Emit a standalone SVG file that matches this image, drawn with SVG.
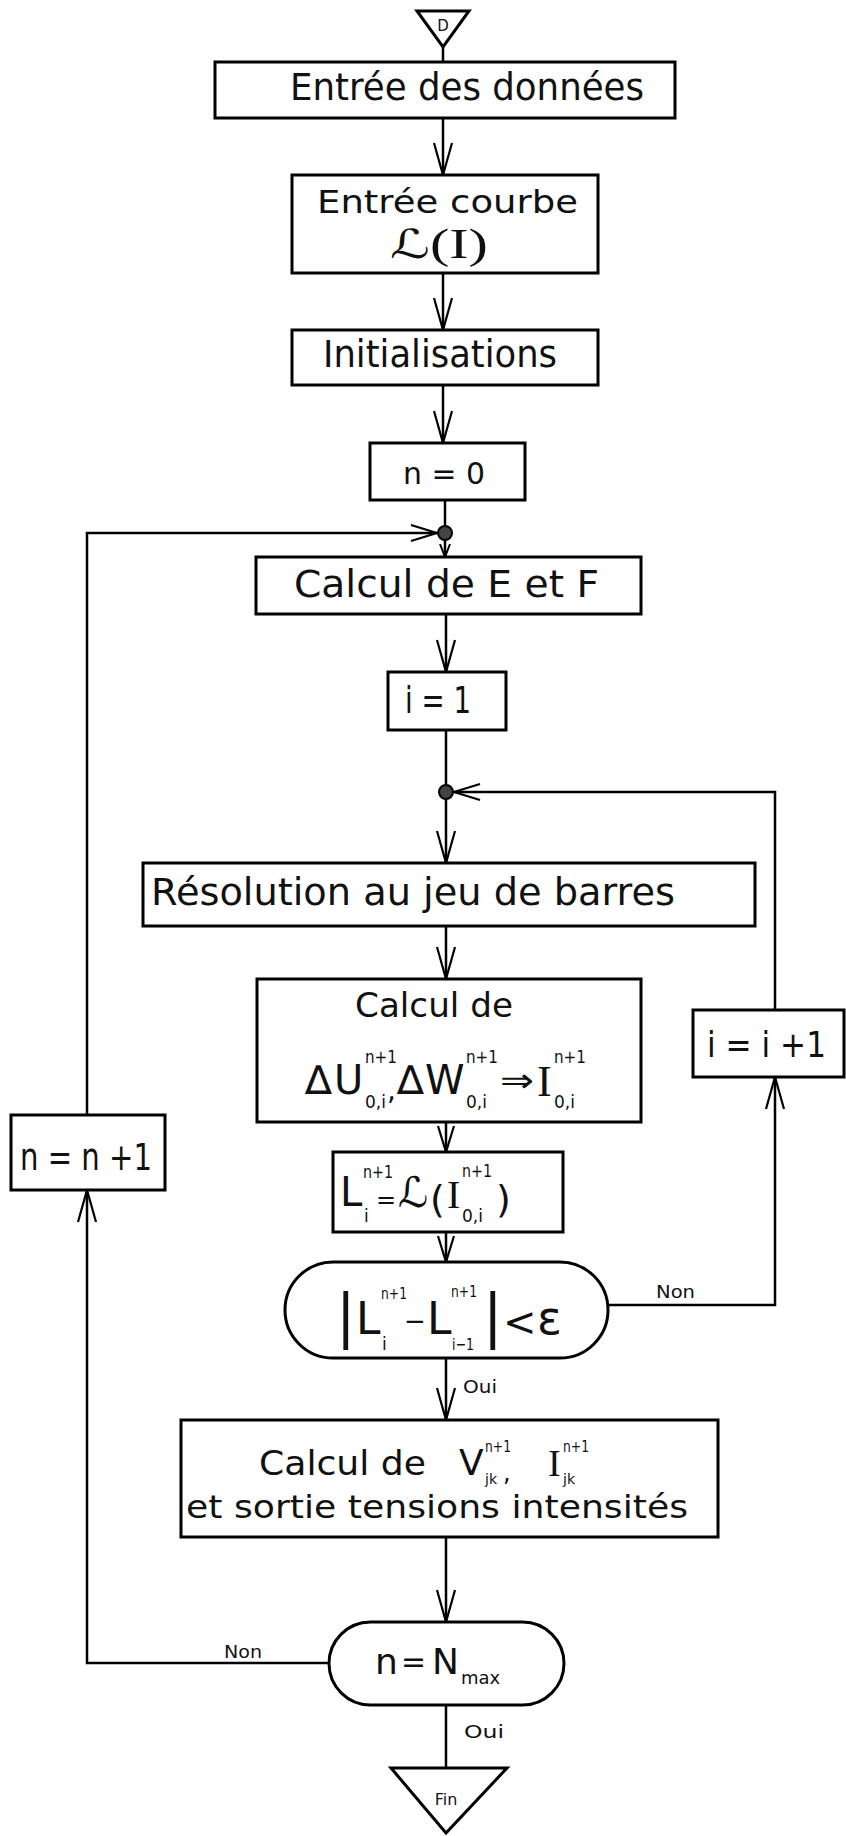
<svg xmlns="http://www.w3.org/2000/svg" width="846" height="1836" viewBox="0 0 846 1836">
<style>
.box{fill:#fff;stroke:#000;stroke-width:3}
.t{font-family:"DejaVu Sans","Liberation Sans",sans-serif;fill:#111}
.sf{font-family:"Liberation Serif","DejaVu Serif",serif;fill:#111}
.c{fill:none;stroke:#000;stroke-width:2.5}
.j{fill:#444;stroke:#000;stroke-width:2}
.lab{font-family:"DejaVu Sans","Liberation Sans",sans-serif;fill:#111;font-size:17px}
</style>
<defs>
<marker id="v" viewBox="-34 -12 36 24" refX="0" refY="0" markerWidth="36" markerHeight="24" markerUnits="userSpaceOnUse" orient="auto"><path d="M-32,-9 L0,0 L-32,9" fill="none" stroke="#000" stroke-width="2.2"/></marker>
<marker id="vm" viewBox="-28 -10 30 20" refX="0" refY="0" markerWidth="30" markerHeight="20" markerUnits="userSpaceOnUse" orient="auto"><path d="M-26,-8 L0,0 L-26,8" fill="none" stroke="#000" stroke-width="2.2"/></marker>
<marker id="vs" viewBox="-15 -7 17 14" refX="0" refY="0" markerWidth="17" markerHeight="14" markerUnits="userSpaceOnUse" orient="auto"><path d="M-13,-5 L0,0 L-13,5" fill="none" stroke="#000" stroke-width="2"/></marker>
</defs>
<rect width="846" height="1836" fill="#fff"/>

<g id="connectors">
<path class="c" d="M443,47 L443,62"/>
<path class="c" d="M443,118 L443,175" marker-end="url(#v)"/>
<path class="c" d="M443,273 L443,330" marker-end="url(#v)"/>
<path class="c" d="M443,385 L443,443" marker-end="url(#v)"/>
<path class="c" d="M445,500 L445,526"/>
<path class="c" d="M445,540 L445,557" marker-end="url(#vs)"/>
<path class="c" d="M446,614 L446,672" marker-end="url(#v)"/>
<path class="c" d="M446,730 L446,785"/>
<path class="c" d="M446,799 L446,863" marker-end="url(#v)"/>
<path class="c" d="M446,926 L446,979" marker-end="url(#v)"/>
<path class="c" d="M446,1122 L446,1152" marker-end="url(#vm)"/>
<path class="c" d="M446,1232 L446,1262" marker-end="url(#vm)"/>
<path class="c" d="M446,1358 L446,1420" marker-end="url(#v)"/>
<path class="c" d="M446,1537 L446,1622" marker-end="url(#v)"/>
<path class="c" d="M446,1705 L446,1768"/>
<path class="c" d="M608,1305 L775,1305 L775,1077" marker-end="url(#v)"/>
<path class="c" d="M775,1010 L775,792 L454,792" marker-end="url(#vm)"/>
<path class="c" d="M329,1663 L87,1663 L87,1190" marker-end="url(#v)"/>
<path class="c" d="M87,1115 L87,533 L437,533" marker-end="url(#vm)"/>
<circle class="j" cx="445" cy="533" r="7"/>
<circle class="j" cx="446" cy="792" r="7"/>
<text class="lab" x="656" y="1298" textLength="39" lengthAdjust="spacingAndGlyphs">Non</text>
<text class="lab" x="463" y="1393" textLength="34" lengthAdjust="spacingAndGlyphs">Oui</text>
<text class="lab" x="224" y="1658" textLength="38" lengthAdjust="spacingAndGlyphs" font-size="15">Non</text>
<text class="lab" x="464" y="1738" textLength="40" lengthAdjust="spacingAndGlyphs">Oui</text>
</g>

<g id="start">
<polygon class="box" points="417,11 469,11 443,47"/>
<text class="t" x="443" y="31" font-size="15" text-anchor="middle">D</text>
</g>

<g id="entree-donnees">
<rect class="box" x="215" y="62" width="460" height="56"/>
<text class="t" x="290" y="100" font-size="37" textLength="354" lengthAdjust="spacingAndGlyphs">Entrée des données</text>
</g>

<g id="entree-courbe">
<rect class="box" x="292" y="175" width="306" height="98"/>
<text class="t" x="317" y="213" font-size="32" textLength="261" lengthAdjust="spacingAndGlyphs">Entrée courbe</text>
<text class="t" x="390" y="258" font-size="40" textLength="98" lengthAdjust="spacingAndGlyphs">ℒ<tspan class="sf" font-size="42">(I)</tspan></text>
</g>

<g id="initialisations">
<rect class="box" x="292" y="330" width="306" height="55"/>
<text class="t" x="323" y="367" font-size="37" textLength="234" lengthAdjust="spacingAndGlyphs">Initialisations</text>
</g>

<g id="n0">
<rect class="box" x="370" y="443" width="155" height="57"/>
<text class="t" x="403" y="484" font-size="30" textLength="82" lengthAdjust="spacingAndGlyphs">n = 0</text>
</g>

<g id="calcul-ef">
<rect class="box" x="256" y="557" width="385" height="57"/>
<text class="t" x="294" y="597" font-size="37" textLength="305" lengthAdjust="spacingAndGlyphs">Calcul de E et F</text>
</g>

<g id="i1">
<rect class="box" x="388" y="672" width="118" height="58"/>
<text class="t" x="405" y="713" font-size="38" textLength="66" lengthAdjust="spacingAndGlyphs">i = 1</text>
</g>

<g id="resolution">
<rect class="box" x="143" y="863" width="612" height="63"/>
<text class="t" x="151" y="905" font-size="37" textLength="524" lengthAdjust="spacingAndGlyphs">Résolution au jeu de barres</text>
</g>

<g id="calcul-du">
<rect class="box" x="257" y="979" width="384" height="143"/>
<text class="t" x="355" y="1017" font-size="34" textLength="158" lengthAdjust="spacingAndGlyphs">Calcul de</text>
<text class="t" font-size="40"><tspan x="305" y="1094">∆</tspan><tspan x="334" y="1094">U</tspan><tspan x="365" y="1063" font-size="18" textLength="32" lengthAdjust="spacingAndGlyphs">n+1</tspan><tspan x="365" y="1108" font-size="17">0,i</tspan><tspan x="387" y="1100" font-size="28">,</tspan><tspan x="397" y="1094">∆</tspan><tspan x="425" y="1094">W</tspan><tspan x="466" y="1063" font-size="18" textLength="32" lengthAdjust="spacingAndGlyphs">n+1</tspan><tspan x="466" y="1108" font-size="17">0,i</tspan><tspan x="500" y="1092" font-size="34" textLength="34" lengthAdjust="spacingAndGlyphs">⇒</tspan><tspan class="sf" x="537" y="1096" font-size="44">I</tspan><tspan x="554" y="1063" font-size="18" textLength="32" lengthAdjust="spacingAndGlyphs">n+1</tspan><tspan x="554" y="1108" font-size="17">0,i</tspan></text>
</g>

<g id="calcul-l">
<rect class="box" x="333" y="1152" width="230" height="80"/>
<text class="t" font-size="40"><tspan x="340" y="1206">L</tspan><tspan x="363" y="1178" font-size="18" textLength="30" lengthAdjust="spacingAndGlyphs">n+1</tspan><tspan x="364" y="1222" font-size="17">i</tspan><tspan x="376" y="1208" font-size="24">=</tspan><tspan x="398" y="1207" font-size="42">ℒ</tspan><tspan x="430" y="1212" font-size="38">(</tspan><tspan class="sf" x="447" y="1208" font-size="40">I</tspan><tspan x="462" y="1177" font-size="18" textLength="30" lengthAdjust="spacingAndGlyphs">n+1</tspan><tspan x="462" y="1222" font-size="17">0,i</tspan><tspan x="496" y="1212" font-size="38">)</tspan></text>
</g>

<g id="test-l">
<rect class="box" x="285" y="1262" width="323" height="96" rx="48" ry="48"/>
<text class="t" font-size="44"><tspan x="336" y="1336" font-size="58">|</tspan><tspan x="356" y="1334">L</tspan><tspan x="381" y="1299" font-size="15" textLength="26" lengthAdjust="spacingAndGlyphs">n+1</tspan><tspan x="382" y="1350" font-size="17">i</tspan><tspan x="404" y="1330" font-size="26">−</tspan><tspan x="427" y="1334">L</tspan><tspan x="451" y="1297" font-size="15" textLength="26" lengthAdjust="spacingAndGlyphs">n+1</tspan><tspan x="452" y="1350" font-size="16" textLength="22" lengthAdjust="spacingAndGlyphs">i−1</tspan><tspan x="483" y="1336" font-size="58">|</tspan><tspan x="503" y="1336" font-size="40">&lt;</tspan><tspan x="537" y="1334" font-size="46">ε</tspan></text>
</g>

<g id="i-plus">
<rect class="box" x="693" y="1010" width="151" height="67"/>
<text class="t" x="707" y="1057" font-size="35" textLength="119" lengthAdjust="spacingAndGlyphs">i = i +1</text>
</g>

<g id="n-plus">
<rect class="box" x="11" y="1115" width="154" height="75"/>
<text class="t" x="20" y="1170" font-size="38" textLength="132" lengthAdjust="spacingAndGlyphs">n = n +1</text>
</g>

<g id="calcul-v">
<rect class="box" x="181" y="1420" width="537" height="117"/>
<text class="t" x="259" y="1475" font-size="34" textLength="167" lengthAdjust="spacingAndGlyphs">Calcul de</text>
<text class="t" font-size="36"><tspan x="459" y="1475">V</tspan><tspan x="485" y="1452" font-size="16" textLength="26" lengthAdjust="spacingAndGlyphs">n+1</tspan><tspan x="485" y="1484" font-size="14">jk</tspan><tspan x="503" y="1481" font-size="24">,</tspan><tspan class="sf" x="548" y="1476" font-size="38">I</tspan><tspan x="563" y="1452" font-size="16" textLength="26" lengthAdjust="spacingAndGlyphs">n+1</tspan><tspan x="563" y="1484" font-size="14">jk</tspan></text>
<text class="t" x="186" y="1518" font-size="32" textLength="502" lengthAdjust="spacingAndGlyphs">et sortie  tensions intensités</text>
</g>

<g id="test-n">
<rect class="box" x="329" y="1622" width="235" height="83" rx="41.5" ry="41.5"/>
<text class="t" font-size="36"><tspan x="375" y="1674">n</tspan><tspan x="401" y="1672" font-size="30">=</tspan><tspan x="432" y="1674">N</tspan><tspan x="461" y="1684" font-size="18">max</tspan></text>
</g>

<g id="fin">
<polygon class="box" points="391,1768 507,1768 446,1833"/>
<text class="t" x="446" y="1805" font-size="16" text-anchor="middle">Fin</text>
</g>
</svg>
